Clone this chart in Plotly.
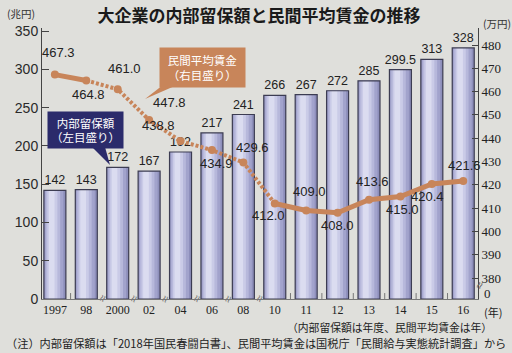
import plotly.graph_objects as go

# ---------------- data ----------------
years = ["1997", "98", "2000", "02", "04", "06", "08", "10", "11", "12", "13", "14", "15", "16"]
reserves = [142, 143, 172, 167, 192, 217, 241, 266, 267, 272, 285, 299.5, 313, 328]   # 兆円 (left)
wages = [467.3, 464.8, 461.0, 447.8, 438.8, 434.9, 429.6, 412.0, 409.0, 408.0, 413.6, 415.0, 420.4, 421.6]  # 万円 (right)
left_ticks = [0, 50, 100, 150, 200, 250, 300, 350]
right_ticks = [380, 390, 400, 410, 420, 430, 440, 450, 460, 470, 480]

# ---------------- style / layout helpers ----------------
W, H = 512, 353
L, R, T, B = 42, 478, 28, 299
BG = "#dfdfdb"
ORANGE = "#c8855a"
NAVY = "#2b2b6b"
JP = "Noto Sans CJK JP"


def px(x):
    return (x - L) / (R - L)


def py(y):
    return (B - y) / (B - T)


idx = list(range(len(years)))

# pixel offsets (dx, dy-down) of wage labels relative to their points
wage_label_offsets = [(4, -22), (2, 14), (7, -21), (20, -18), (-22, -16), (5, 13), (9, -15),
                      (-6, 12), (3, -19), (0, 13), (3, -18), (2, 13), (-4, 13), (1, -16)]

fig = go.Figure()

# cylinder-like bars built from overlaid layers
layers = [(0.70, 0.0, "#8e8fbb"), (0.60, -0.03, "#a2a3cc"), (0.46, -0.06, "#b7b8db"),
          (0.32, -0.08, "#cacbe7"), (0.18, -0.10, "#dbdcf0")]
for w, s, c in layers:
    fig.add_bar(x=idx, y=reserves, width=w, offset=-w / 2 + s,
                marker=dict(color=c, line=dict(width=0)),
                hoverinfo="skip", showlegend=False)

fig.add_bar(x=idx, y=reserves, width=0.70, offset=-0.35,
            marker=dict(color="rgba(0,0,0,0)", line=dict(color="#3c3c52", width=1.2)),
            text=[f"{v:g}" for v in reserves], textposition="outside",
            constraintext="none",
            textfont=dict(family="Liberation Sans", size=12.5, color="#222"),
            cliponaxis=False, showlegend=False)

# wage line: solid for consecutive years, dotted across skipped years
line_style = dict(color=ORANGE, width=5)
fig.add_scatter(x=idx[0:2], y=wages[0:2], yaxis="y2", mode="lines",
                line=line_style, showlegend=False)
fig.add_scatter(x=idx[1:8], y=wages[1:8], yaxis="y2", mode="lines",
                line=dict(color=ORANGE, width=4, dash="3px,2px"), showlegend=False)
fig.add_scatter(x=idx[7:], y=wages[7:], yaxis="y2", mode="lines",
                line=line_style, showlegend=False)
fig.add_scatter(x=idx, y=wages, yaxis="y2", mode="markers",
                marker=dict(color=ORANGE, size=8), showlegend=False)

ann = []
for i, v in enumerate(wages):
    dx, dy = wage_label_offsets[i]
    ann.append(dict(x=i, y=v, xref="x", yref="y2", text=f"{v:.1f}", showarrow=False,
                    xanchor="center", yanchor="middle", xshift=dx, yshift=-dy,
                    font=dict(family="Liberation Sans", size=13, color="#222")))

# axis breaks on the x axis (skipped years) and minor ticks between consecutive years
shapes = []
for i in range(len(years) - 1):
    if i in (1, 2, 3, 4, 5, 6):
        ann.append(dict(x=i + 0.5, y=0, xref="x", yref="paper", text="≈", textangle=-65,
                        xanchor="center", yanchor="middle",
                        showarrow=False, font=dict(size=13, color="#777")))
    else:
        shapes.append(dict(type="line", xref="x", yref="paper", x0=i + 0.5, x1=i + 0.5,
                           y0=0, y1=0.022, line=dict(color="#777", width=1)))

# right axis break and zero
ann.append(dict(x=1, y=py(286), xref="paper", yref="paper", text="≈", textangle=-65,
                xanchor="center", yanchor="middle",
                showarrow=False, font=dict(size=13, color="#666"), xshift=1))
ann.append(dict(x=1, y=py(293), xref="paper", yref="paper", text="0", xanchor="left",
                yanchor="middle", showarrow=False, xshift=4,
                font=dict(family="Liberation Serif", size=13, color="#222")))


def label(x, y, text, size, anchor="center", color="#222"):
    return dict(x=px(x), y=py(y), xref="paper", yref="paper", text=text, showarrow=False,
                xanchor=anchor, yanchor="middle", font=dict(family=JP, size=size, color=color))


# units and notes
ann += [
    label(21, 13, "(兆円)", 10.5, color="#333"),
    label(497, 24, "(万円)", 10.5, color="#333"),
    label(493, 312, "(年)", 11),
    label(494, 327, "（内部留保額は年度、民間平均賃金は年）", 10.8, anchor="right"),
    label(256, 343, "（注）内部留保額は「2018年国民春闘白書」、民間平均賃金は国税庁「民間給与実態統計調査」から", 11.2),
]

# callouts
ann.append(dict(x=px(202), y=py(67), xref="paper", yref="paper",
                xanchor="center", yanchor="middle",
                text="民間平均賃金<br>（右目盛り）", showarrow=False, bgcolor=ORANGE,
                width=81, height=35, borderpad=2, align="center",
                font=dict(family=JP, size=11.5, color="white")))
ann.append(dict(x=px(85), y=py(130), xref="paper", yref="paper",
                xanchor="center", yanchor="middle",
                text="内部留保額<br>（左目盛り）", showarrow=False, bgcolor=NAVY,
                width=71, height=32, borderpad=2, align="center",
                font=dict(family=JP, size=11.5, color="white")))


def wedge(p1, p2, tip, color):
    path = (f"M {px(p1[0])},{py(p1[1])} L {px(p2[0])},{py(p2[1])} "
            f"L {px(tip[0])},{py(tip[1])} Z")
    return dict(type="path", xref="paper", yref="paper", path=path,
                fillcolor=color, line=dict(width=0), layer="above")


shapes.append(wedge((163, 85), (177, 85), (145, 99), ORANGE))
shapes.append(wedge((92, 147), (105, 147), (110, 165), NAVY))

fig.update_layout(
    width=W, height=H,
    margin=dict(l=L, r=W - R, t=T, b=H - B),
    paper_bgcolor=BG, plot_bgcolor=BG,
    barmode="overlay",
    showlegend=False,
    title=dict(text="大企業の内部留保額と民間平均賃金の推移", x=259 / W, y=1 - 16 / H,
               xref="container", yref="container", xanchor="center", yanchor="middle",
               font=dict(family=JP, size=17, color="#1a1a1a", weight=700)),
    xaxis=dict(range=[-0.41, 13.47], tickvals=idx, ticktext=years, showline=True,
               linecolor="#777", linewidth=1, ticks="", showgrid=False, zeroline=False,
               tickfont=dict(family="Liberation Serif", size=12, color="#222"),
               ticklabelstandoff=0),
    yaxis=dict(range=[0, 354], tickvals=left_ticks, ticks="inside", ticklen=7,
               tickcolor="#444", showline=True, linecolor="#444", linewidth=1,
               showgrid=False, zeroline=False,
               tickfont=dict(family="Liberation Sans", size=14, color="#2a2a2a")),
    yaxis2=dict(range=[371, 487.3], overlaying="y", side="right", tickvals=right_ticks,
                ticks="inside", ticklen=6, tickcolor="#444", showline=True,
                linecolor="#444", linewidth=1, showgrid=False, zeroline=False,
                tickfont=dict(family="Liberation Serif", size=13, color="#222")),
    annotations=ann,
    shapes=shapes,
)

fig.write_html("out.html")
